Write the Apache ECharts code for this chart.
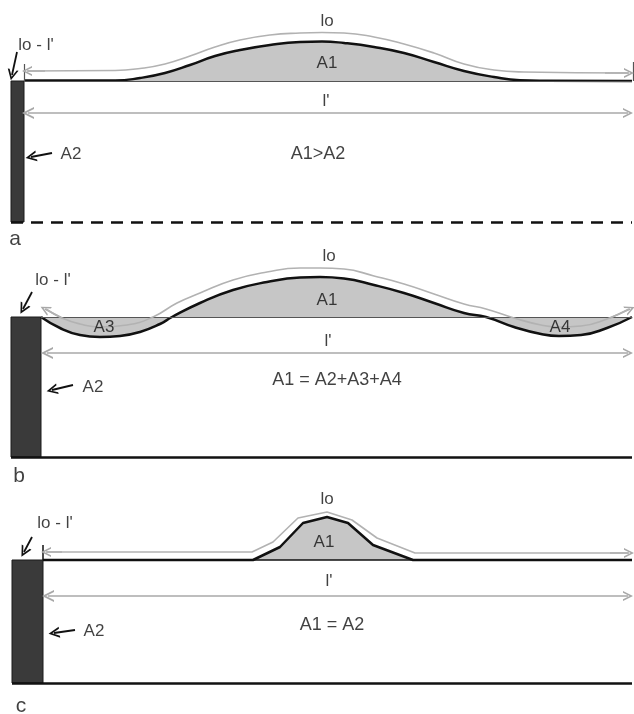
<!DOCTYPE html>
<html>
<head>
<meta charset="utf-8">
<script src="https://cdn.jsdelivr.net/npm/echarts@6/dist/echarts.min.js"></script>
<style>
  html, body { margin: 0; padding: 0; background: #ffffff; }
  #chart { width: 634px; height: 714px; }
</style>
</head>
<body>
<div id="chart"></div>
<script>
// x: distance from the left edge, y: height above the l' baseline (same units)

// panel a
const curveA = [[24, 0.5], [115, 0.5], [140, 3], [165, 8], [190, 16], [215, 25], [240, 31], [270, 36], [300, 39],
  [322, 39.5], [344, 38], [374, 34], [404, 28], [434, 19], [464, 10], [494, 4], [520, 0.8], [545, 0.3], [632, 0]];
const loA = [[28, 10], [115, 10.5], [140, 12.5], [165, 17], [190, 25], [215, 34], [240, 41], [270, 46], [300, 48],
  [322, 48.5], [344, 48], [374, 44], [404, 37], [434, 28], [464, 17], [494, 11], [524, 9], [628, 8]];
const barA = [[11, 24, 0, -141]];
const depthA = -141;

// panel b
const curveB = [[41, 0], [60, -11], [80, -18], [100, -20], [120, -19], [140, -15], [160, -7], [172, 0], [200, 14],
  [233, 27], [267, 35], [300, 39.5], [320, 40], [344, 38.5], [374, 32], [404, 24], [434, 14], [464, 4], [486, 0],
  [514, -10], [541, -17], [559, -19], [581, -18], [607, -11], [632, 0]];
const loB = [[46, 8], [62, -1], [80, -7], [100, -10], [127, -8], [153, 0], [177, 14], [200, 24], [233, 37], [267, 45],
  [300, 49], [320, 49], [344, 48], [374, 41], [404, 33], [434, 23], [464, 13], [486, 8], [514, -1], [541, -8],
  [559, -10], [581, -9], [607, -2], [629, 8]];
const barB = [[11, 41, 0, -140]];
const depthB = -140;

// panel c
const curveC = [[43, 0], [253, 0], [280, 13], [303, 37], [327, 43], [348, 37], [373, 15], [413, 0], [632, 0]];
const loC = [[47, 8], [252, 8], [273, 18], [298, 42], [327, 48], [352, 40], [377, 22], [415, 7], [628, 7]];
const barC = [[12, 43, 0, -123]];
const depthC = -123;

// straight arrows: [from, to]
const lPrimeArrows = [[[28, -32], [628, -32]], [[47, -36], [628, -36]], [[48, -36], [628, -36]]];
const loEndArrows = [
  [[[45, 10], [27, 10]], [[605, 8], [629, 8]]],
  [[[62, -1], [45, 8]], [[610, -1], [630, 8]]],
  [[[62, 8], [46, 8]], [[610, 7], [629, 7]]]
];
const loDiffArrows = [[[17, 29], [12, 6]], [[32, 25], [23, 8]], [[32, 23], [24, 8]]];
const a2Arrows = [[[52, -72], [31, -76]], [[73, -68], [52, -73]], [[75, -70], [54, -73]]];

// labels: [text, x, y, size]
const labelsA = [["lo", 327, 60, 17], ["A1", 327, 18, 17], ["l'", 326, -20, 17], ["A1>A2", 318, -73, 18],
  ["A2", 71, -73, 17], ["lo - l'", 36, 36, 17], ["a", 15, -158, 21]];
const labelsB = [["lo", 329, 61, 17], ["A1", 327, 17, 17], ["l'", 328, -24, 17], ["A1 = A2+A3+A4", 337, -63, 18],
  ["A2", 93, -70, 17], ["A3", 104, -10, 17], ["A4", 560, -10, 17], ["lo - l'", 53, 37, 17], ["b", 19, -159, 21]];
const labelsC = [["lo", 327, 61, 17], ["A1", 324, 18, 17], ["l'", 329, -21, 17], ["A1 = A2", 332, -65, 18],
  ["A2", 94, -71, 17], ["lo - l'", 55, 37, 17], ["c", 21, -146, 21]];

const panels = [
  { curve: curveA, lo: loA, bar: barA, depth: depthA, dashed: true, labels: labelsA, smooth: 0.5,
    base: [[24, 0], [632, 0]], ticks: [[[24, 0], [24, 17]], [[633, 0], [633, 19]]], top: 0, height: 245, yMax: 81 },
  { curve: curveB, lo: loB, bar: barB, depth: depthB, dashed: false, labels: labelsB, smooth: 0.5,
    base: [[41, 0], [632, 0]], ticks: [], top: 240, height: 240, yMax: 77 },
  { curve: curveC, lo: loC, bar: barC, depth: depthC, dashed: false, labels: labelsC, smooth: false,
    base: [[43, 0], [632, 0]], ticks: [[[43, 0], [43, 15]]], top: 480, height: 234, yMax: 80 }
];

const CHEV = 'path://M0,10 L5,0 L10,10 L8.3,10 L5,3.4 L1.7,10 Z';
const FONT = '"Liberation Sans", Arial, sans-serif';

const grid = [], xAxis = [], yAxis = [], series = [];

panels.forEach(function (p, i) {
  grid.push({ left: 0, top: p.top, width: 634, height: p.height, containLabel: false });
  xAxis.push({ type: 'value', gridIndex: i, min: 0, max: 634, show: false });
  yAxis.push({ type: 'value', gridIndex: i, min: p.yMax - p.height, max: p.yMax, show: false });
  const ax = { xAxisIndex: i, yAxisIndex: i };

  // specimen block
  series.push(Object.assign({
    type: 'custom', data: p.bar, z: 2,
    renderItem: function (params, api) {
      const p0 = api.coord([api.value(0), api.value(2)]);
      const p1 = api.coord([api.value(1), api.value(3)]);
      return { type: 'rect', shape: { x: p0[0], y: p0[1], width: p1[0] - p0[0], height: p1[1] - p0[1] },
        style: { fill: '#3a3a3a', stroke: '#1a1a1a', lineWidth: 1 } };
    }
  }, ax));

  // bottom line
  series.push(Object.assign({
    type: 'lines', coordinateSystem: 'cartesian2d', z: 3, silent: true,
    lineStyle: { color: '#111', width: 2.5, opacity: 1, type: p.dashed ? [12, 8] : 'solid' },
    data: [{ coords: [[p.bar[0][0], p.depth], [632, p.depth]] }]
  }, ax));

  // deformed surface with area
  series.push(Object.assign({
    type: 'line', data: p.curve, smooth: p.smooth, symbol: 'none', z: 4,
    lineStyle: { color: '#111', width: 2.5 },
    areaStyle: { color: '#c6c6c6', opacity: 1, origin: 0 }
  }, ax));

  // baseline and ticks
  series.push(Object.assign({
    type: 'lines', coordinateSystem: 'cartesian2d', z: 5, silent: true,
    lineStyle: { color: i === 2 ? '#111' : '#555', width: i === 2 ? 1.5 : 1.2, opacity: 1 },
    data: [{ coords: p.base }].concat(p.ticks.map(function (t) { return { coords: t }; }))
  }, ax));

  // lo line
  series.push(Object.assign({
    type: 'line', data: p.lo, smooth: p.smooth, symbol: 'none', z: 6,
    lineStyle: { color: '#b2b2b2', width: 1.6 }
  }, ax));

  // lo arrow heads
  series.push(Object.assign({
    type: 'lines', coordinateSystem: 'cartesian2d', z: 6, silent: true,
    symbol: ['none', CHEV], symbolSize: [12, 10],
    lineStyle: { color: '#a8a8a8', width: 1.6, opacity: 1 },
    data: loEndArrows[i].map(function (c) { return { coords: c }; })
  }, ax));

  // l' double arrow
  series.push(Object.assign({
    type: 'lines', coordinateSystem: 'cartesian2d', z: 6, silent: true,
    symbol: [CHEV, CHEV], symbolSize: [12, 10],
    lineStyle: { color: '#a8a8a8', width: 1.6, opacity: 1 },
    data: [{ coords: lPrimeArrows[i] }]
  }, ax));

  // black pointer arrows
  series.push(Object.assign({
    type: 'lines', coordinateSystem: 'cartesian2d', z: 7, silent: true,
    symbol: ['none', CHEV], symbolSize: [12, 11],
    lineStyle: { color: '#111', width: 1.8, opacity: 1 },
    data: [{ coords: loDiffArrows[i] }, { coords: a2Arrows[i] }]
  }, ax));

  // text
  series.push(Object.assign({
    type: 'scatter', symbolSize: 1, z: 8, silent: true,
    itemStyle: { color: 'rgba(0,0,0,0)' },
    data: p.labels.map(function (l) {
      return { name: l[0], value: [l[1], l[2]],
        label: { show: true, position: 'inside', formatter: '{b}', color: '#111', fontSize: l[3],
          fontFamily: FONT, align: 'center', verticalAlign: 'middle' } };
    })
  }, ax));
});

const chart = echarts.init(document.getElementById('chart'), null, { renderer: 'canvas' });
chart.setOption({
  animation: false,
  backgroundColor: '#ffffff',
  grid: grid,
  xAxis: xAxis,
  yAxis: yAxis,
  series: series
});
</script>
</body>
</html>
